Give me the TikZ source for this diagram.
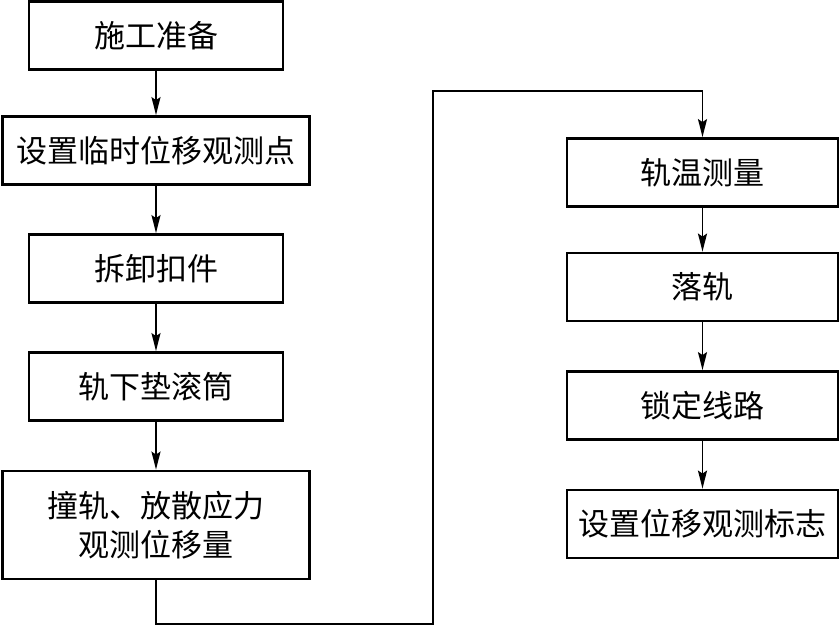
\documentclass[tikz,border=0pt]{standalone}
\usepackage{fontspec}
\newfontfamily\cjk{Noto Sans CJK SC}
\usepackage{tikz}
\usetikzlibrary{arrows.meta}

\begin{document}
\begin{tikzpicture}[x=1pt, y=1pt, auto,
      block/.style={rectangle, draw, line width=2.8pt, minimum width=254pt, minimum height=68pt, align=center, inner sep=0pt, font=\cjk\fontsize{31}{39}\selectfont},
      wideblock/.style={block, minimum width=307pt},
      rblock/.style={block, minimum width=271pt},
      line/.style={draw, line width=1.7pt, -{Stealth[length=18pt, width=9pt, inset=3pt]}}]
      \useasboundingbox (0,0) rectangle (839,626);

      % Nodes (left column)
      \node [block] (prep) at (156,590.5) {施工准备};
      \node [wideblock, below of=prep, node distance=115pt] (mark) {设置临时位移观测点};
      \node [block, below of=mark, node distance=118pt] (fastener) {拆卸扣件};
      \node [block, below of=fastener, node distance=118pt] (roller) {轨下垫滚筒};
      \node [wideblock, minimum height=108pt, below of=roller, node distance=138.5pt] (release) {撞轨、放散应力\\观测位移量};

      % Nodes (right column)
      \node [rblock] (temp) at (702.5,453.5) {轨温测量};
      \node [rblock, below of=temp, node distance=114.5pt] (drop) {落轨};
      \node [rblock, below of=drop, node distance=118.5pt] (lock) {锁定线路};
      \node [rblock, below of=lock, node distance=118.5pt] (sign) {设置位移观测标志};

      \coordinate (turnlow) at (433,2);
      \coordinate (turnhigh) at (433,535);

      % Edges
      \path [line] (prep) -- (mark);
      \path [line] (mark) -- (fastener);
      \path [line] (fastener) -- (roller);
      \path [line] (roller) -- (release);
      \path [line] (release.south) |- (turnlow) -- (turnhigh) -| (temp.north);
      \path [line] (temp) -- (drop);
      \path [line] (drop) -- (lock);
      \path [line] (lock) -- (sign);

    \end{tikzpicture}
\end{document}
